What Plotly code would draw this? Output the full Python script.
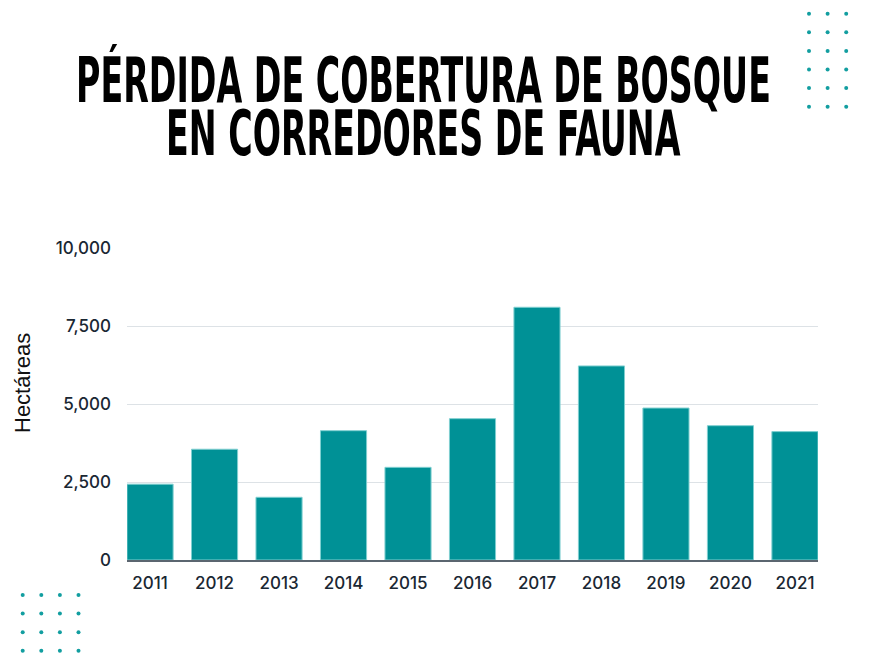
import plotly.graph_objects as go

years = [2011, 2012, 2013, 2014, 2015, 2016, 2017, 2018, 2019, 2020, 2021]
hectareas = [2430, 3550, 2010, 4145, 2970, 4530, 8100, 6220, 4870, 4305, 4115]
ytick_vals = [0, 2500, 5000, 7500, 10000]
ytick_text = ["0", "2,500", "5,000", "7,500", "10,000"]
title_lines = ["PÉRDIDA DE COBERTURA DE BOSQUE", "EN CORREDORES DE FAUNA"]
y_title = "Hectáreas"

W, H = 869, 654
OFF = 8  # page offset of the figure (body margin)
# target plot area in page pixels
PX0, PX1, PY0, PY1 = 127, 818, 248, 560
L, R, T, B = PX0 - OFF, W - (PX1 - OFF), PY0 - OFF, H - (PY1 - OFF)
PW, PH = PX1 - PX0, PY1 - PY0
teal = "#009196"
bargap = 0.285
half = (1 - bargap) / 2


def px(x):
    return (x - PX0) / PW


def py(y):
    return (PY1 - y) / PH


fig = go.Figure()
fig.add_trace(go.Bar(
    x=years, y=hectareas,
    marker=dict(color=teal, line=dict(color="#7fcfd0", width=1)),
    hoverinfo="x+y",
))

shapes = []


def dots(x0, y0, nx, ny, step):
    for i in range(nx):
        for j in range(ny):
            cx, cy = x0 + i * step, y0 + j * step
            shapes.append(dict(type="circle", xref="paper", yref="paper",
                               x0=px(cx - 2), x1=px(cx + 2),
                               y0=py(cy + 2), y1=py(cy - 2),
                               fillcolor="#129ea0", line=dict(width=0), layer="above"))


dots(809, 13.7, 4, 6, 18.6)
dots(22.7, 595, 4, 4, 18.6)

title_font = dict(family="DejaVu Sans Condensed", size=37, color="#000000", weight="bold")
annotations = [
    dict(text=title_lines[0], xref="paper", yref="paper", x=px(423), y=py(80),
         xanchor="center", yanchor="middle", showarrow=False, font=title_font),
    dict(text=title_lines[1], xref="paper", yref="paper", x=px(423), y=py(133),
         xanchor="center", yanchor="middle", showarrow=False, font=title_font),
    dict(text=y_title, xref="paper", yref="paper", x=px(22), y=py(383),
         xanchor="center", yanchor="middle", showarrow=False, textangle=-90,
         font=dict(family="Liberation Sans, Arial, sans-serif", size=22, color="#111111")),
]

tick_font_x = dict(family="Inter, Lato, sans-serif", size=17, color="#1a2733", weight=500)
tick_font_y = dict(family="Inter, Lato, sans-serif", size=17, color="#1a2733", weight=500)

fig.update_layout(
    width=W, height=H,
    margin=dict(l=L, r=R, t=T, b=B, pad=0),
    paper_bgcolor="white", plot_bgcolor="white",
    bargap=bargap,
    showlegend=False,
    shapes=shapes,
    annotations=annotations,
    xaxis=dict(
        range=[years[0] - half, years[-1] + half],
        tickmode="array", tickvals=years, ticktext=[str(y) for y in years],
        showgrid=False, zeroline=False,
        showline=True, linecolor="#5b6670", linewidth=1.5,
        ticks="", ticklabelstandoff=7,
        tickfont=tick_font_x,
    ),
    yaxis=dict(
        range=[0, 10000],
        tickmode="array", tickvals=ytick_vals, ticktext=ytick_text,
        showgrid=True, gridcolor="#dde2e6", gridwidth=1,
        zeroline=False, showline=False, ticks="",
        ticklabelstandoff=15,
        tickfont=tick_font_y,
    ),
)

post = """
(function(){
  var gd = document.getElementById('{plot_id}');
  function stretch(){
    var els = gd.querySelectorAll('.annotation-text');
    els.forEach(function(t){
      var s = t.textContent;
      if (s.indexOf('PÉRDIDA') === 0 || s.indexOf('EN CORREDORES') === 0) {
        t.style.transformBox = 'fill-box';
        t.style.transformOrigin = 'center';
        t.style.transform = 'scaleY(1.7)';
      }
    });
  }
  stretch();
  gd.on && gd.on('plotly_afterplot', stretch);
})();
"""

fig.write_html("out.html", post_script=post)
